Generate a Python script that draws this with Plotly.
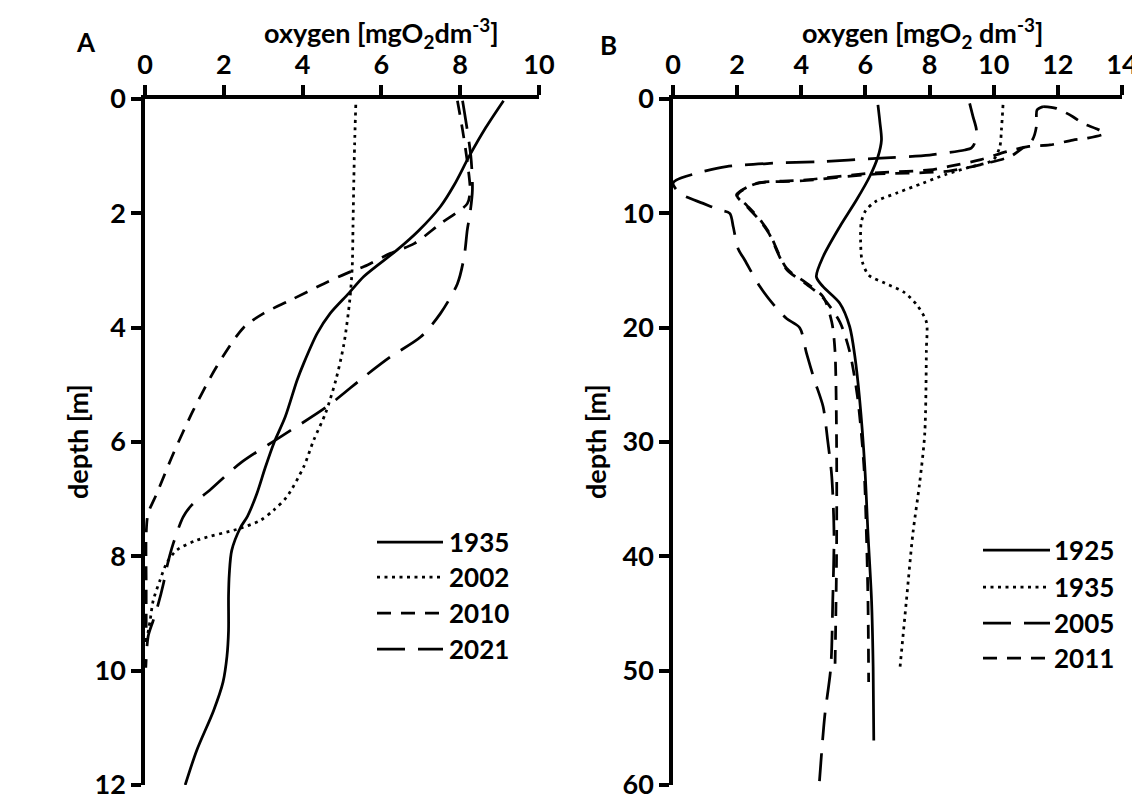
import plotly.graph_objects as go

# ---------------- Panel A data (depth [m], oxygen [mg O2 dm-3]) ----------------
a_1935_depth = [0.03, 0.5, 1.0, 1.5, 1.88, 2.3, 2.64, 3.1, 3.4, 3.75, 4.1, 4.62, 4.92, 5.56, 6.02, 6.45, 6.9, 7.3, 7.5, 7.9, 8.3, 8.7, 9.3, 9.75, 10.2, 10.7, 11.4, 12.0]
a_1935_oxy = [9.1, 8.65, 8.23, 7.85, 7.5, 6.95, 6.4, 5.56, 5.17, 4.7, 4.37, 4.03, 3.86, 3.56, 3.27, 3.05, 2.84, 2.6, 2.42, 2.2, 2.14, 2.12, 2.12, 2.08, 1.98, 1.74, 1.31, 1.02]

a_2002_depth = [0.1, 0.8, 1.42, 2.2, 2.93, 3.5, 4.28, 4.9, 5.5, 5.97, 6.43, 6.96, 7.19, 7.37, 7.51, 7.72, 7.89, 8.12, 8.42, 8.77, 9.12, 9.4]
a_2002_oxy = [5.35, 5.32, 5.3, 5.28, 5.26, 5.2, 5.05, 4.85, 4.58, 4.28, 4.03, 3.6, 3.27, 2.93, 2.42, 1.31, 0.81, 0.55, 0.38, 0.21, 0.13, 0.06]

a_2010_depth = [0.03, 0.54, 1.2, 1.6, 1.83, 2.18, 2.53, 2.7, 2.93, 3.02, 3.23, 3.52, 3.75, 4.0, 4.68, 5.44, 6.2, 6.9, 7.25, 7.6, 8.5, 9.5]
a_2010_oxy = [7.93, 8.06, 8.2, 8.25, 8.18, 7.5, 6.83, 6.23, 5.56, 5.22, 4.54, 3.69, 3.01, 2.5, 1.82, 1.23, 0.72, 0.3, 0.08, 0.03, 0.03, 0.03]

a_2021_depth = [0.03, 1.0, 1.59, 2.0, 2.29, 2.76, 3.23, 3.75, 4.16, 4.51, 4.86, 5.38, 5.91, 6.37, 6.84, 7.1, 7.31, 7.77, 8.2, 8.47, 8.85, 9.12, 9.4, 9.95]
a_2021_oxy = [8.06, 8.27, 8.31, 8.25, 8.18, 8.1, 7.93, 7.5, 7.0, 6.23, 5.56, 4.62, 3.44, 2.42, 1.65, 1.19, 0.97, 0.72, 0.55, 0.47, 0.33, 0.21, 0.08, 0.02]

# ---------------- Panel B data ----------------
b_1925_depth = [0.52, 2.0, 3.59, 5.05, 6.8, 8.84, 11.17, 13.8, 15.55, 16.42, 17.87, 19.92, 22.5, 26.3, 32.17, 38.0, 43.8, 49.67, 56.1]
b_1925_oxy = [6.39, 6.45, 6.5, 6.39, 6.13, 5.72, 5.2, 4.68, 4.47, 4.68, 5.2, 5.51, 5.67, 5.82, 5.98, 6.08, 6.19, 6.24, 6.26]

b_1935_depth = [0.52, 2.71, 4.17, 5.34, 6.0, 6.6, 7.35, 8.2, 9.0, 9.8, 10.8, 12.5, 14.2, 15.4, 16.1, 16.9, 18.0, 19.5, 21.96, 29.25, 33.6, 38.0, 43.8, 49.96]
b_1935_oxy = [10.29, 10.24, 10.19, 9.98, 9.2, 8.5, 7.8, 7.0, 6.3, 6.0, 5.87, 5.85, 5.9, 6.1, 6.6, 7.2, 7.6, 7.9, 7.9, 7.85, 7.69, 7.48, 7.28, 7.07]

b_2005_depth = [0.38, 1.5, 2.7, 3.9, 4.3, 4.46, 4.9, 5.19, 5.48, 5.63, 5.92, 6.5, 7.09, 7.38, 8.25, 9.13, 9.71, 10.0, 11.2, 13.1, 14.1, 16.4, 18.2, 19.2, 20.0, 22.2, 24.5, 26.9, 29.8, 33.0, 38.0, 44.0, 49.7, 54.0, 60.3]
b_2005_oxy = [9.25, 9.35, 9.46, 9.4, 9.3, 9.1, 8.0, 6.34, 4.57, 3.02, 1.66, 0.73, 0.1, 0.0, 0.21, 0.94, 1.46, 1.77, 1.88, 2.03, 2.24, 2.71, 3.2, 3.54, 3.95, 4.16, 4.4, 4.68, 4.82, 4.95, 5.02, 4.98, 4.92, 4.73, 4.55]

# 2011: profile with the surface maximum (short dashes, in the legend)
b_2011_depth = [0.67, 0.82, 1.55, 2.13, 2.6, 3.0, 3.44, 3.59, 4.02, 4.15, 4.6, 5.3, 5.9, 6.2, 6.5, 7.1, 7.37, 8.1, 8.4, 9.3, 10.5, 11.7, 14.8, 16.1, 17.3, 19.5, 22.0, 30.0, 40.0, 50.0]
b_2011_oxy = [11.54, 11.95, 12.47, 12.78, 13.2, 13.46, 12.89, 12.47, 11.75, 11.1, 10.4, 9.6, 8.6, 8.0, 6.13, 4.05, 2.6, 2.08, 1.98, 2.3, 2.7, 3.0, 3.54, 4.16, 4.68, 4.95, 5.05, 5.1, 5.1, 5.05]

# second short-dashed 2011 profile drawn in the figure (not listed separately in its legend)
b_2011b_depth = [0.67, 0.96, 1.6, 2.42, 3.6, 4.3, 5.05, 5.6, 6.3, 6.6, 7.15, 7.4, 8.15, 8.5, 9.4, 10.6, 11.8, 14.9, 16.2, 17.4, 19.5, 22.0, 26.0, 32.0, 38.0, 44.0, 51.0]
b_2011b_oxy = [11.54, 11.35, 11.33, 11.33, 11.2, 10.9, 10.5, 9.8, 8.6, 6.13, 4.05, 2.6, 2.08, 2.0, 2.3, 2.7, 3.0, 3.54, 4.16, 4.68, 5.2, 5.5, 5.75, 5.95, 6.03, 6.08, 6.1]

# ---------------- styling ----------------
OFF = 8                      # the page body puts the figure 8 px in from the corner
W, H = 1140 - OFF, 794 - OFF
FONT = "Lato"
LW = 2.75
SOLID, DOT, SHORT, LONG = "solid", "3px,4.5px", "14px,10px", "28px,13px"


def px(x):
    return (x - OFF) / W


def py(y):
    return 1 - (y - OFF) / H


fig = go.Figure()


def add(xs, ys, dash, name, xa, ya):
    fig.add_trace(go.Scatter(x=xs, y=ys, mode="lines", name=name, xaxis=xa, yaxis=ya,
                             line=dict(color="black", width=LW, dash=dash, shape="spline", smoothing=0.8),
                             showlegend=False))


add(a_1935_oxy, a_1935_depth, SOLID, "1935", "x", "y")
add(a_2002_oxy, a_2002_depth, DOT, "2002", "x", "y")
add(a_2010_oxy, a_2010_depth, SHORT, "2010", "x", "y")
add(a_2021_oxy, a_2021_depth, LONG, "2021", "x", "y")

add(b_1925_oxy, b_1925_depth, SOLID, "1925", "x2", "y2")
add(b_1935_oxy, b_1935_depth, DOT, "1935", "x2", "y2")
add(b_2005_oxy, b_2005_depth, LONG, "2005", "x2", "y2")
add(b_2011_oxy, b_2011_depth, SHORT, "2011", "x2", "y2")
add(b_2011b_oxy, b_2011b_depth, SHORT, "2011 (b)", "x2", "y2")

tickfont = dict(family=FONT, size=27, color="black", weight="bold")
titlefont = dict(family=FONT, size=27, color="black", weight="bold")
common = dict(showline=True, linewidth=3.5, linecolor="black", ticks="outside", ticklen=10,
              tickwidth=3.5, tickcolor="black", showgrid=False, zeroline=False, tickfont=tickfont,
              automargin=False, ticklabeloverflow="allow")

yd = [py(785), py(99)]
fig.update_layout(
    template="none",
    width=W, height=H, margin=dict(l=0, r=0, t=0, b=0, pad=0),
    paper_bgcolor="white", plot_bgcolor="white", showlegend=False,
    xaxis=dict(domain=[px(145), px(539)], range=[0, 10], dtick=2, side="top", anchor="y", **common),
    yaxis=dict(domain=yd, range=[12, 0], dtick=2, anchor="x", **common),
    xaxis2=dict(domain=[px(673), px(1122)], range=[0, 14], dtick=2, side="top", anchor="y2", **common),
    yaxis2=dict(domain=yd, range=[60, 0], dtick=10, anchor="x2", **common),
)


def note(x, y, text, font, xanchor="center", angle=0):
    fig.add_annotation(x=px(x), y=py(y), xref="paper", yref="paper", showarrow=False,
                       xanchor=xanchor, yanchor="middle", textangle=angle, text=text, font=font)


# axis titles and panel letters
note(381, 33, "oxygen [mgO<sub>2</sub>dm<sup>-3</sup>]", titlefont)
note(922, 33, "oxygen [mgO<sub>2</sub> dm<sup>-3</sup>]", titlefont)
note(77, 442, "depth [m]", titlefont, angle=-90)
note(595, 442, "depth [m]", titlefont, angle=-90)
letterfont = dict(family=FONT, size=26, color="black", weight="bold")
note(86, 42, "A", letterfont)
note(608, 45, "B", letterfont)

# legends
legA = [("1935", SOLID), ("2002", DOT), ("2010", SHORT), ("2021", LONG)]
legB = [("1925", SOLID), ("1935", DOT), ("2005", LONG), ("2011", SHORT)]
rowsA = [542, 577, 613, 649]
rowsB = [550, 587, 623, 658]
legfont = dict(family=FONT, size=26, color="black", weight="bold")
for (lab, dash), r in zip(legA, rowsA):
    fig.add_shape(type="line", xref="paper", yref="paper", x0=px(377), x1=px(443), y0=py(r), y1=py(r),
                  line=dict(color="black", width=LW, dash=dash))
    note(447, r, lab, legfont, xanchor="left")
for (lab, dash), r in zip(legB, rowsB):
    fig.add_shape(type="line", xref="paper", yref="paper", x0=px(983), x1=px(1050), y0=py(r), y1=py(r),
                  line=dict(color="black", width=LW, dash=dash))
    note(1052, r, lab, legfont, xanchor="left")

fig.write_html("out.html")
